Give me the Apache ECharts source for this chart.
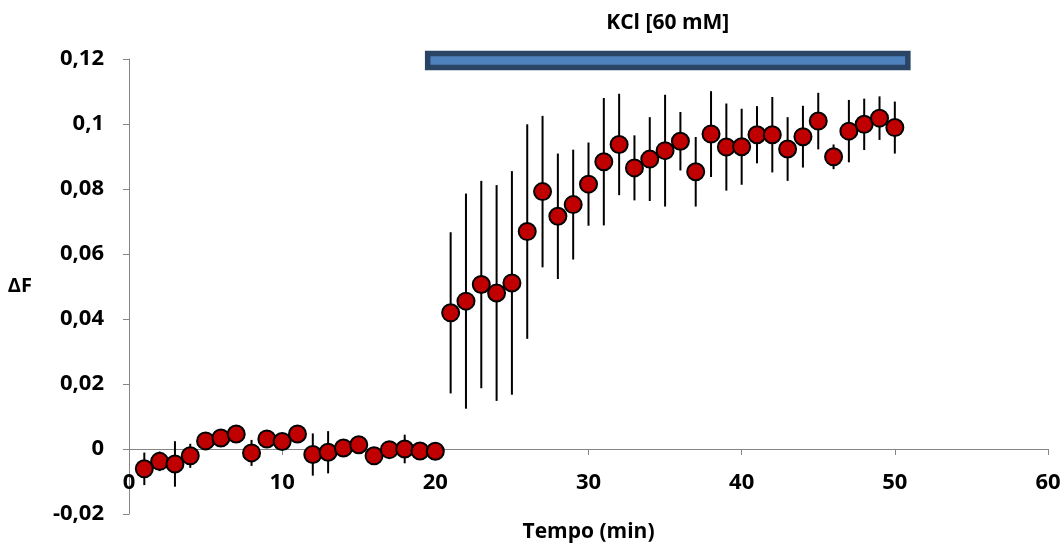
<!DOCTYPE html>
<html>
<head>
<meta charset="utf-8">
<script src="https://cdn.jsdelivr.net/npm/echarts@6/dist/echarts.min.js"></script>
<style>
html,body{margin:0;padding:0;background:#fff;}
#chart{width:1063px;height:548px;}
</style>
</head>
<body>
<div id="chart"></div>
<script>
// ---- data ----
var times = [1,2,3,4,5,6,7,8,9,10,11,12,13,14,15,16,17,18,19,20,21,22,23,24,25,26,27,28,29,30,31,32,33,34,35,36,37,38,39,40,41,42,43,44,45,46,47,48,49,50];
var meanDF = [-0.0061,-0.0038,-0.0046,-0.0021,0.0025,0.0034,0.0046,-0.0012,0.0031,0.0023,
              0.0046,-0.0017,-0.0010,0.0003,0.0013,-0.0021,-0.0002,0.0000,-0.0006,-0.0007,
              0.0419,0.0455,0.0506,0.0480,0.0511,0.0669,0.0792,0.0716,0.0752,0.0815,
              0.0884,0.0937,0.0865,0.0892,0.0918,0.0947,0.0853,0.0969,0.0929,0.0930,
              0.0967,0.0967,0.0923,0.0961,0.1009,0.0899,0.0978,0.0999,0.1018,0.0989];
var errDF = [0.0050,0.0030,0.0070,0.0037,0.0010,0.0008,0.0008,0.0040,0.0008,0.0008,
             0.0008,0.0065,0.0065,0.0008,0.0008,0.0025,0.0008,0.0044,0.0008,0.0008,
             0.0248,0.0331,0.0319,0.0332,0.0344,0.0330,0.0233,0.0193,0.0169,0.0128,
             0.0196,0.0156,0.0100,0.0129,0.0172,0.0090,0.0107,0.0132,0.0134,0.0117,
             0.0088,0.0116,0.0098,0.0095,0.0087,0.0038,0.0096,0.0079,0.0067,0.0080];
var kclSpan = [19.5, 50.85];     // treatment period (min)
var kclLevel = [0.1174, 0.1217]; // vertical extent of the treatment bar
var kclLabel = 'KCl [60 mM]';
var xTicks = {min: 0, max: 60, interval: 10};
var yTicks = {min: -0.02, max: 0.12, interval: 0.02};

// ---- chart ----
var FONT = 'Open Sans';
var W = 1063, H = 548;
var GRID = {left: 129, right: 15, top: 59, bottom: 34};
var plotH = H - GRID.top - GRID.bottom;
// x axis crosses the y axis at 0
var xAxisOffset = -plotH * (0 - yTicks.min) / (yTicks.max - yTicks.min);

var chart = echarts.init(document.getElementById('chart'), null, {renderer: 'canvas'});
var points = times.map(function (t, i) { return [t, meanDF[i]]; });
var errors = times.map(function (t, i) { return [t, meanDF[i] - errDF[i], meanDF[i] + errDF[i]]; });
var fmt = function (v) { return String(+(+v).toFixed(4)).replace('.', ','); };

chart.setOption({
  animation: false,
  backgroundColor: '#fff',
  grid: {left: GRID.left, right: GRID.right, top: GRID.top, bottom: GRID.bottom, containLabel: false, outerBoundsMode: 'none'},
  xAxis: {
    type: 'value', min: xTicks.min, max: xTicks.max, interval: xTicks.interval,
    position: 'bottom', offset: xAxisOffset,
    name: 'Tempo (min)', nameLocation: 'middle', nameGap: 73,
    nameTextStyle: {fontFamily: FONT, fontWeight: 'bold', fontSize: 21, color: '#000'},
    axisLine: {onZero: false, lineStyle: {color: '#868686', width: 1}},
    axisTick: {show: true, inside: false, length: 6, lineStyle: {color: '#868686'}},
    axisLabel: {fontFamily: FONT, fontWeight: 'bold', fontSize: 22, color: '#000', margin: 23},
    splitLine: {show: false}
  },
  yAxis: {
    type: 'value', min: yTicks.min, max: yTicks.max, interval: yTicks.interval,
    name: 'ΔF', nameLocation: 'middle', nameRotate: 0, nameGap: 97,
    nameTextStyle: {fontFamily: FONT, fontWeight: 'bold', fontSize: 20, color: '#000'},
    axisLine: {show: true, onZero: false, lineStyle: {color: '#868686', width: 1}},
    axisTick: {show: true, inside: false, length: 6, lineStyle: {color: '#868686'}},
    axisLabel: {fontFamily: FONT, fontWeight: 'bold', fontSize: 22, color: '#000', margin: 25, formatter: fmt},
    splitLine: {show: false}
  },
  series: [
    {
      type: 'custom',
      name: 'err',
      data: errors,
      z: 2,
      renderItem: function (params, api) {
        var x = api.value(0);
        var lo = api.coord([x, api.value(1)]);
        var hi = api.coord([x, api.value(2)]);
        return {
          type: 'line',
          shape: {x1: lo[0], y1: lo[1], x2: hi[0], y2: hi[1]},
          style: {stroke: '#000', lineWidth: 2}
        };
      }
    },
    {
      type: 'scatter',
      data: points,
      symbol: 'circle',
      symbolSize: 17,
      z: 3,
      itemStyle: {color: '#c00000', borderColor: '#000', borderWidth: 2, opacity: 1}
    },
    {
      type: 'custom',
      name: 'kcl',
      clip: false,
      data: [[kclSpan[0], kclSpan[1], kclLevel[0], kclLevel[1]]],
      z: 4,
      renderItem: function (params, api) {
        var p1 = api.coord([api.value(0), api.value(3)]);
        var p2 = api.coord([api.value(1), api.value(2)]);
        return {
          type: 'group',
          children: [
            {
              type: 'rect',
              shape: {x: p1[0], y: p1[1], width: p2[0] - p1[0], height: p2[1] - p1[1]},
              style: {fill: '#4f81bd', stroke: '#2a4466', lineWidth: 5.5}
            },
            {
              type: 'text',
              style: {
                text: kclLabel, x: (p1[0] + p2[0]) / 2, y: p1[1] - 30,
                textAlign: 'center', textVerticalAlign: 'middle',
                font: 'bold 21px "' + FONT + '"', fill: '#000'
              }
            }
          ]
        };
      }
    }
  ]
});
</script>
</body>
</html>
